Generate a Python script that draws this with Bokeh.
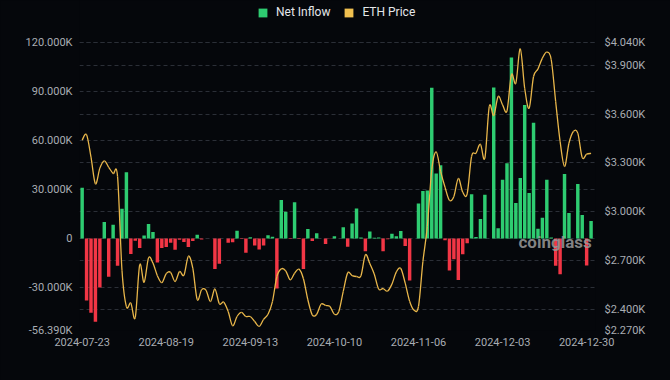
import pandas as pd
from bokeh.plotting import figure
from bokeh.models import (ColumnDataSource, Range1d, LinearAxis, FixedTicker,
                          CustomJSTickFormatter, Legend, LegendItem, Label, Grid)
from bokeh.embed import file_html
from bokeh.resources import INLINE

# ---------------- data ----------------
dates = pd.bdate_range("2024-07-23", "2024-12-31").strftime("%Y-%m-%d").tolist()

net_inflow_k = [
    31.0, -38.0, -45.5, -51.0, -30.0, 10.0, -23.4, 8.4, -16.8, 18.2,
    40.6, -9.6, -1.4, -5.9, 1.8, 8.8, 3.9, -14.8, -5.8, -5.2,
    -2.7, -7.0, -0.8, -2.2, -5.2, -1.5, 2.2, -0.7, 0.0, 0.0,
    -18.7, -15.5, 0.0, -2.7, -2.4, 4.7, -0.3, -8.7, 0.7, -4.3,
    -6.8, -4.3, 2.0, 1.1, -30.7, 23.5, 16.3, -0.4, 22.2, -0.4,
    -18.7, 5.8, -1.5, 3.2, 0.0, -3.4, -0.2, 1.3, 0.0, 6.8,
    -5.1, 9.1, 18.4, 0.6, -7.8, 4.3, 0.4, 0.5, -7.8, -0.5,
    2.8, 1.4, 4.6, -4.6, -25.7, 0.0, 21.4, 29.0, 29.4, 92.3,
    39.8, 44.8, -1.1, -19.7, -12.8, -25.4, -9.7, -3.0, 27.0, 0.8,
    11.9, 26.8, 0.0, 92.4, 6.3, 36.0, 46.0, 110.8, 21.7, 37.0,
    81.7, 27.8, 70.9, 5.9, 12.7, 36.0, 0.6, -16.8, -22.0, 39.5,
    15.6, 0.0, 33.4, 14.3, -16.6, 10.6,
]

eth_price = [
    3440, 3473, 3335, 3172, 3268, 3313, 3273, 3235, 3216, 2640,
    2417, 2438, 2350, 2673, 2566, 2716, 2684, 2607, 2564, 2620,
    2627, 2571, 2632, 2610, 2727, 2653, 2460, 2521, 2517, 2448,
    2525, 2435, 2444, 2387, 2299, 2356, 2381, 2356, 2356, 2325,
    2295, 2339, 2370, 2448, 2602, 2649, 2637, 2582, 2622, 2647,
    2588, 2459, 2366, 2370, 2432, 2424, 2418, 2370, 2387, 2510,
    2624, 2607, 2602, 2607, 2735, 2681, 2617, 2525, 2528, 2512,
    2555, 2630, 2651, 2561, 2450, 2395, 2418, 2694, 2910, 3258,
    3368, 3248, 3150, 3070, 3094, 3204, 3120, 3110, 3340, 3360,
    3415, 3329, 3647, 3591, 3708, 3657, 3620, 3842, 3790, 4001,
    3759, 3636, 3831, 3878, 3944, 3981, 3934, 3677, 3432, 3278,
    3421, 3493, 3483, 3333, 3354, 3358,
]

x_tick_labels = ["2024-07-23", "2024-08-19", "2024-09-13", "2024-10-10",
                 "2024-11-06", "2024-12-03", "2024-12-30"]
left_ticks = [-56.39, -30, 0, 30, 60, 90, 120]
right_ticks = [2270, 2400, 2700, 3000, 3300, 3600, 3900, 4040]

# ---------------- styles ----------------
BG = "#05070b"
GREEN = "#2ecc71"
RED = "#f23645"
YELLOW = "#e8b64a"
LEGEND_YELLOW = "#f0c050"
GRID = "#2b2f37"
LABEL = "#a9adb3"
FONT = "Roboto"

W, H = 670, 380
BORDER_L, BORDER_R, BORDER_B = 79, 75, 50
AXIS_TOP_PX = 42          # where the top tick sits below the canvas top
PLOT_H = H - BORDER_B     # frame height (frame reaches the canvas top; legend lives there)
AXIS_H = PLOT_H - AXIS_TOP_PX

def padded_top(lo, hi):
    return hi + AXIS_TOP_PX * (hi - lo) / AXIS_H

n = len(dates)
xs = list(range(n))
colors = [GREEN if v >= 0 else RED for v in net_inflow_k]
src = ColumnDataSource(dict(x=xs, inflow=net_inflow_k, color=colors,
                            price=eth_price, date=dates))

# smooth price curve: bezier segments through the daily points (Catmull-Rom control points)
def ctrl(i):
    a = max(i - 1, 0)
    b = min(i + 1, n - 1)
    return (xs[b] - xs[a]) / 6.0, (eth_price[b] - eth_price[a]) / 6.0

seg = dict(x0=[], y0=[], x1=[], y1=[], cx0=[], cy0=[], cx1=[], cy1=[])
for i in range(n - 1):
    d0 = ctrl(i)
    d1 = ctrl(i + 1)
    seg["x0"].append(xs[i]); seg["y0"].append(eth_price[i])
    seg["x1"].append(xs[i + 1]); seg["y1"].append(eth_price[i + 1])
    seg["cx0"].append(xs[i] + d0[0]); seg["cy0"].append(eth_price[i] + d0[1])
    seg["cx1"].append(xs[i + 1] - d1[0]); seg["cy1"].append(eth_price[i + 1] - d1[1])
seg_src = ColumnDataSource(seg)

p = figure(width=W, height=H, output_backend="svg", toolbar_location=None, title=None,
           x_range=Range1d(-0.6, n - 0.0),
           y_range=Range1d(left_ticks[0], padded_top(left_ticks[0], left_ticks[-1])),
           background_fill_color=BG, border_fill_color=BG,
           min_border_left=BORDER_L, min_border_right=BORDER_R,
           min_border_top=0, min_border_bottom=BORDER_B)
p.outline_line_color = None
p.extra_y_ranges = {"price": Range1d(right_ticks[0], padded_top(right_ticks[0], right_ticks[-1]))}

# grids
p.xgrid.visible = False
p.ygrid.ticker = FixedTicker(ticks=left_ticks)
p.ygrid.grid_line_color = GRID
p.ygrid.grid_line_dash = "4 3"
p.ygrid.grid_line_width = 1
g2 = Grid(dimension=1, ticker=FixedTicker(ticks=right_ticks), y_range_name="price",
          grid_line_color=GRID, grid_line_dash="4 3", grid_line_width=1)
p.add_layout(g2)

# bars
bars = p.vbar(x="x", top="inflow", bottom=0, width=0.78, source=src,
              fill_color="color", line_color=None)

# price line (smooth)
p.bezier(x0="x0", y0="y0", x1="x1", y1="y1", cx0="cx0", cy0="cy0", cx1="cx1", cy1="cy1",
         source=seg_src, y_range_name="price", line_color=YELLOW, line_width=1.3)

# zero-height bar on the first price point: gives the legend its square swatch
sw_src = ColumnDataSource(dict(x=xs[:1], top=eth_price[:1]))
swatch = p.vbar(x="x", top="top", bottom="top", width=0.8, source=sw_src,
                fill_color=LEGEND_YELLOW, line_color=None, y_range_name="price")

# axes
tick_idx = [dates.index(d) for d in x_tick_labels]
p.xaxis.ticker = FixedTicker(ticks=tick_idx)
p.xaxis.formatter = CustomJSTickFormatter(args=dict(labels=dates),
                                          code="return labels[Math.round(tick)] || '';")
p.yaxis.ticker = FixedTicker(ticks=left_ticks)
p.yaxis.formatter = CustomJSTickFormatter(
    code="return Math.abs(tick) < 1e-9 ? '0' : tick.toFixed(3) + 'K';")

raxis = LinearAxis(y_range_name="price", ticker=FixedTicker(ticks=right_ticks),
                   formatter=CustomJSTickFormatter(
                       code="return '$' + (tick/1000).toFixed(3) + 'K';"))
p.add_layout(raxis, "right")

for ax in [p.xaxis[0], p.yaxis[0], raxis]:
    ax.axis_line_color = None
    ax.major_tick_line_color = None
    ax.minor_tick_line_color = None
    ax.major_tick_out = 0
    ax.major_tick_in = 0
    ax.minor_tick_out = 0
    ax.minor_tick_in = 0
    ax.major_label_text_color = LABEL
    ax.major_label_text_font = FONT
    ax.major_label_text_font_size = "11px"
p.xaxis.major_label_standoff = 7
p.yaxis.major_label_standoff = 7
raxis.major_label_standoff = 9

# legend at the top
legend = Legend(items=[LegendItem(label="Net Inflow", renderers=[bars], index=0),
                       LegendItem(label="ETH Price", renderers=[swatch], index=0)],
                location=(178, PLOT_H - 19), orientation="horizontal",
                glyph_width=11, glyph_height=11, label_standoff=8, spacing=13,
                padding=0, margin=0, label_height=14,
                label_text_font=FONT, label_text_font_size="12px",
                label_text_color="#e4e6e9",
                background_fill_alpha=0, border_line_color=None)
p.add_layout(legend)

# watermark
wm = Label(x=439, y=79, x_units="screen", y_units="screen", text="coinglass",
           text_font=FONT, text_font_size="17px", text_font_style="bold",
           text_color="#9a9a9a", text_alpha=0.85)
p.add_layout(wm)

html = file_html(p, INLINE)
html = html.replace("<head>", "<head><style>html,body{background:%s;}</style>" % BG, 1)
open("out.html", "w").write(html)
